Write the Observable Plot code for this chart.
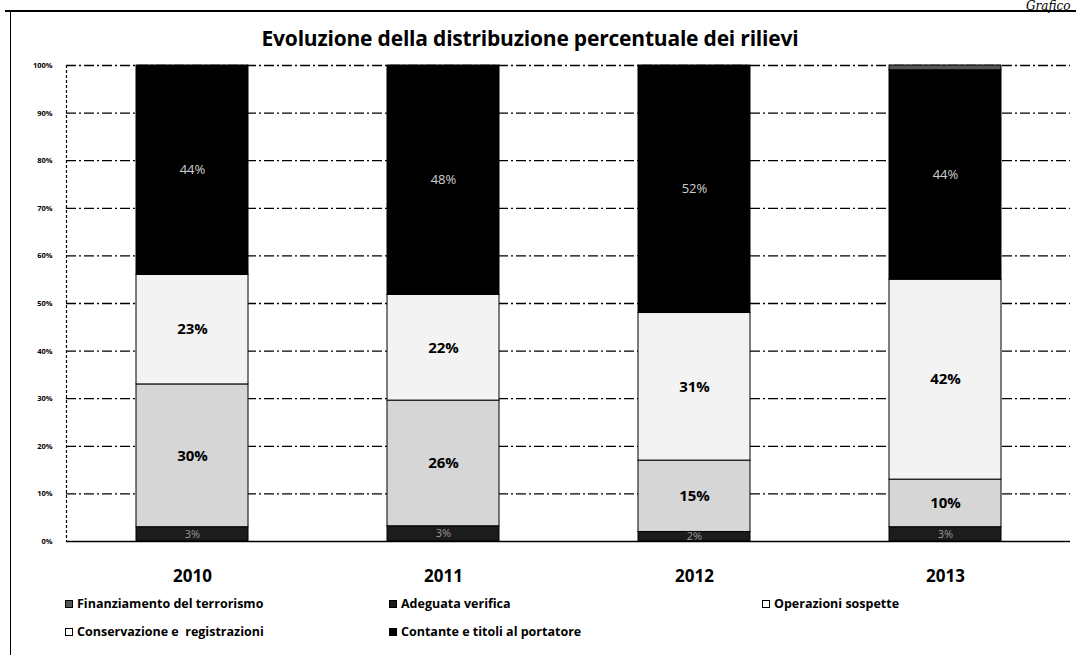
<!DOCTYPE html>
<html>
<head>
<meta charset="utf-8">
<script src="https://cdn.jsdelivr.net/npm/d3@7"></script>
<script src="https://cdn.jsdelivr.net/npm/@observablehq/plot@0.6"></script>
<style>
  body { margin: 0; background: #fff; }
  #wrap { position: relative; width: 1076px; height: 655px; overflow: hidden; font-family: "Open Sans", sans-serif; background: #fff; }
  #frameTop { position: absolute; left: 5px; top: 10px; width: 1071px; height: 0; border-top: 2px solid #000; }
  #frameLeft { position: absolute; left: 10px; top: 11px; width: 0; height: 644px; border-left: 1.5px solid #000; }
  #corner { position: absolute; left: 1026px; top: 0px; font-family: "DejaVu Serif", serif; font-style: italic; font-size: 12px; line-height: 12px; color: #000; }
  #title { position: absolute; left: 0; width: 1060px; top: 24px; text-align: center; font-size: 21px; font-weight: 700; color: #000; letter-spacing: -0.2px; }
  #chart { position: absolute; left: 0; top: 50px; }
  .leg { position: absolute; font-size: 12.5px; font-weight: 700; color: #000; white-space: pre; line-height: 16px; }
  .leg span.sw { display: inline-block; width: 8px; height: 8px; margin-right: 4px; border: 1px solid #000; vertical-align: 0px; box-sizing: border-box; }
</style>
</head>
<body>
<div id="wrap">
  <div id="frameTop"></div>
  <div id="frameLeft"></div>
  <div id="corner">Grafico</div>
  <div id="title">Evoluzione della distribuzione percentuale dei rilievi</div>
  <div id="chart"></div>
  <div id="legend"></div>
</div>
<script>
// ---- data (percent of findings per year) ----
const years = ["2010", "2011", "2012", "2013"];
const categories = [
  "Finanziamento del terrorismo",
  "Adeguata verifica",
  "Operazioni sospette",
  "Conservazione e  registrazioni",
  "Contante e titoli al portatore"
];
const finanziamentoTerrorismo = [0, 0, 0, 1];
const adeguataVerifica = [3, 3.2, 2, 3];
const operazioniSospette = [30, 26.4, 15, 10];
const conservazioneRegistrazioni = [23, 22.2, 31, 42];
const contanteTitoli = [44, 48.2, 52, 44];
const yTicks = [0, 10, 20, 30, 40, 50, 60, 70, 80, 90, 100];

// colours for the legend order above
const colors = ["#555555", "#1c1c1c", "#d6d6d6", "#f3f3f3", "#000000"];

// stacking order, bottom to top
const stackOrder = [
  [categories[1], adeguataVerifica],
  [categories[2], operazioniSospette],
  [categories[3], conservazioneRegistrazioni],
  [categories[4], contanteTitoli],
  [categories[0], finanziamentoTerrorismo]
];
const rows = [];
for (const [cat, vals] of stackOrder) {
  years.forEach((y, i) => rows.push({year: y, category: cat, value: vals[i]}));
}

const labelFor = (cats) => (d) => (cats.includes(d.category) && d.value > 1 ? Math.round(d.value) + "%" : null);

const plot = Plot.plot({
  width: 1076,
  height: 540,
  marginLeft: 66,
  marginRight: 6,
  marginTop: 15,
  marginBottom: 49,
  style: {fontFamily: "Open Sans, sans-serif", background: "transparent", color: "#000"},
  x: {domain: years, paddingInner: 0.554, paddingOuter: 0.277, label: null},
  y: {domain: [0, 100], label: null},
  color: {domain: categories, range: colors},
  marks: [
    Plot.ruleY(yTicks.filter(t => t > 0), {stroke: "#000", strokeWidth: 1.3, strokeDasharray: "10,3,2,3"}),
    Plot.frame({anchor: "left", stroke: "#000", strokeWidth: 1.2, strokeDasharray: "2,3"}),
    Plot.barY(rows.filter(d => d.value > 0), {x: "year", y: "value", fill: "category", stroke: "#000", strokeWidth: 1}),
    Plot.ruleY([0], {stroke: "#000", strokeWidth: 1.6}),
    Plot.axisY({ticks: yTicks, tickFormat: d => d + "%", tickSize: 0, tickPadding: 14, fontSize: 7.5, fontWeight: "bold"}),
    Plot.axisX({tickSize: 0, tickPadding: 28, fontSize: 17, fontWeight: "bold"}),
    Plot.text(rows, Plot.stackY({x: "year", y: "value", z: "category", text: labelFor([categories[2], categories[3]]), fill: "#000", fontSize: 15, fontWeight: "bold"})),
    Plot.text(rows, Plot.stackY({x: "year", y: "value", z: "category", text: labelFor([categories[4]]), fill: "#d0d0d0", fontSize: 13})),
    Plot.text(rows, Plot.stackY({x: "year", y: "value", z: "category", text: labelFor([categories[1]]), fill: "#9a9a9a", fontSize: 11}))
  ]
});
document.getElementById("chart").appendChild(plot);

// ---- HTML legend (two rows, as in the reference) ----
const legendPos = [
  [65, 596], [389, 596], [762, 596],
  [65, 624], [389, 624]
];
const legend = document.getElementById("legend");
categories.forEach((c, i) => {
  const el = document.createElement("div");
  el.className = "leg";
  el.style.left = legendPos[i][0] + "px";
  el.style.top = legendPos[i][1] + "px";
  const sw = document.createElement("span");
  sw.className = "sw";
  sw.style.background = colors[i] === "#f3f3f3" || colors[i] === "#d6d6d6" ? "#fff" : colors[i];
  el.appendChild(sw);
  el.appendChild(document.createTextNode(c));
  legend.appendChild(el);
});
</script>
</body>
</html>
